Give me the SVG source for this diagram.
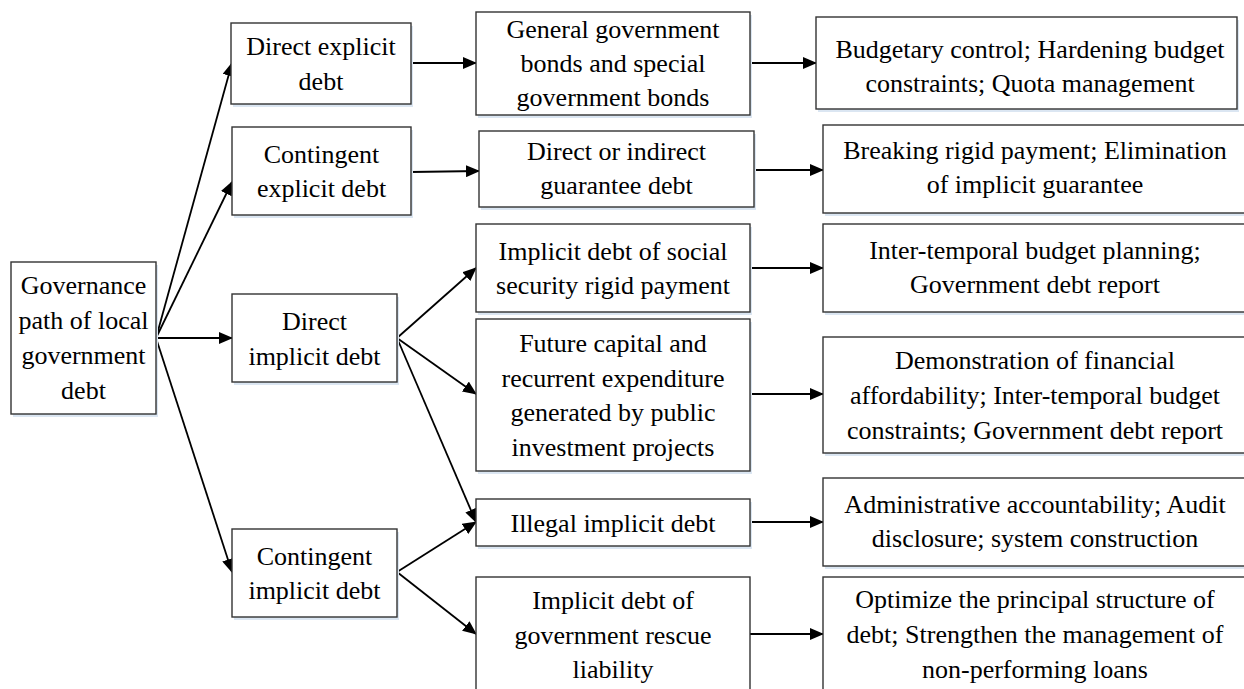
<svg xmlns="http://www.w3.org/2000/svg" width="1244" height="689" viewBox="0 0 1244 689">
<defs>
<style>
.box{fill:#fff;stroke:#333;stroke-width:1.4}
.sh{fill:#dbe6f2}
.t text{font-size:26px;fill:#000;text-anchor:middle}
.ln{stroke:#000;stroke-width:1.8;fill:none;marker-end:url(#ah)}
</style>
<marker id="ah" markerWidth="14" markerHeight="12" refX="13" refY="6" orient="auto" markerUnits="userSpaceOnUse">
<path d="M0,0 L14,6 L0,12 Z" fill="#000"/>
</marker>
</defs>
<rect width="1244" height="689" fill="#fff"/>
<g id="connectors">
<line class="ln" x1="156" y1="338" x2="232" y2="63"/>
<line class="ln" x1="156" y1="338" x2="232" y2="182"/>
<line class="ln" x1="156" y1="338" x2="232" y2="338"/>
<line class="ln" x1="156" y1="338" x2="232" y2="572"/>
<line class="ln" x1="411" y1="63" x2="476" y2="63"/>
<line class="ln" x1="411" y1="172" x2="479" y2="171"/>
<line class="ln" x1="397" y1="338" x2="476" y2="268"/>
<line class="ln" x1="397" y1="338" x2="476" y2="394"/>
<line class="ln" x1="397" y1="338" x2="476" y2="522"/>
<line class="ln" x1="397" y1="572" x2="476" y2="522"/>
<line class="ln" x1="397" y1="572" x2="476" y2="634"/>
<line class="ln" x1="750" y1="63" x2="816" y2="63"/>
<line class="ln" x1="754" y1="170" x2="823" y2="170"/>
<line class="ln" x1="750" y1="268" x2="823" y2="268"/>
<line class="ln" x1="750" y1="394" x2="823" y2="394"/>
<line class="ln" x1="750" y1="522" x2="823" y2="522"/>
<line class="ln" x1="750" y1="634" x2="823" y2="634"/>
</g>
<g class="t" font-family="'Liberation Serif', 'Times New Roman', Times, serif">
<g id="root">
<rect class="sh" x="13" y="265" width="145" height="152"/>
<rect class="box" x="11" y="262" width="145" height="152"/>
<text x="83.5" y="294">Governance</text>
<text x="83.5" y="329">path of local</text>
<text x="83.5" y="364">government</text>
<text x="83.5" y="399">debt</text>
</g>
<g id="a1">
<rect class="sh" x="233" y="26" width="180" height="81"/>
<rect class="box" x="231" y="23" width="180" height="81"/>
<text x="321" y="55">Direct explicit</text>
<text x="321" y="90">debt</text>
</g>
<g id="a2">
<rect class="sh" x="234" y="130" width="179" height="88"/>
<rect class="box" x="232" y="127" width="179" height="88"/>
<text x="321.5" y="163">Contingent</text>
<text x="321.5" y="197">explicit debt</text>
</g>
<g id="a3">
<rect class="sh" x="234" y="297" width="165" height="88"/>
<rect class="box" x="232" y="294" width="165" height="88"/>
<text x="314.5" y="330">Direct</text>
<text x="314.5" y="365">implicit debt</text>
</g>
<g id="a4">
<rect class="sh" x="234" y="532" width="165" height="88"/>
<rect class="box" x="232" y="529" width="165" height="88"/>
<text x="314.5" y="565">Contingent</text>
<text x="314.5" y="599">implicit debt</text>
</g>
<g id="b1">
<rect class="sh" x="478" y="15" width="274" height="103"/>
<rect class="box" x="476" y="12" width="274" height="103"/>
<text x="613" y="38">General government</text>
<text x="613" y="72">bonds and special</text>
<text x="613" y="106">government bonds</text>
</g>
<g id="b2">
<rect class="sh" x="481" y="134" width="275" height="76"/>
<rect class="box" x="479" y="131" width="275" height="76"/>
<text x="616.5" y="160">Direct or indirect</text>
<text x="616.5" y="194">guarantee debt</text>
</g>
<g id="b3">
<rect class="sh" x="478" y="227" width="274" height="88"/>
<rect class="box" x="476" y="224" width="274" height="88"/>
<text x="613" y="260">Implicit debt of social</text>
<text x="613" y="294">security rigid payment</text>
</g>
<g id="b4">
<rect class="sh" x="478" y="322" width="274" height="152"/>
<rect class="box" x="476" y="319" width="274" height="152"/>
<text x="613" y="352">Future capital and</text>
<text x="613" y="386.5">recurrent expenditure</text>
<text x="613" y="421">generated by public</text>
<text x="613" y="455.5">investment projects</text>
</g>
<g id="b5">
<rect class="sh" x="478" y="502" width="274" height="47"/>
<rect class="box" x="476" y="499" width="274" height="47"/>
<text x="613" y="532">Illegal implicit debt</text>
</g>
<g id="b6">
<rect class="box" x="476" y="577" width="274" height="130"/>
<text x="613" y="609">Implicit debt of</text>
<text x="613" y="643.5">government rescue</text>
<text x="613" y="678">liability</text>
</g>
<g id="c1">
<rect class="sh" x="818" y="20" width="421" height="92"/>
<rect class="box" x="816" y="17" width="421" height="92"/>
<text x="1030" y="58">Budgetary control; Hardening budget</text>
<text x="1030" y="92">constraints; Quota management</text>
</g>
<g id="c2">
<rect class="sh" x="825" y="128" width="430" height="88"/>
<rect class="box" x="823" y="125" width="430" height="88"/>
<text x="1035" y="159">Breaking rigid payment; Elimination</text>
<text x="1035" y="193">of implicit guarantee</text>
</g>
<g id="c3">
<rect class="sh" x="825" y="227" width="430" height="88"/>
<rect class="box" x="823" y="224" width="430" height="88"/>
<text x="1035" y="259">Inter-temporal budget planning;</text>
<text x="1035" y="293">Government debt report</text>
</g>
<g id="c4">
<rect class="sh" x="825" y="340" width="430" height="116"/>
<rect class="box" x="823" y="337" width="430" height="116"/>
<text x="1035" y="369">Demonstration of financial</text>
<text x="1035" y="404">affordability; Inter-temporal budget</text>
<text x="1035" y="439">constraints; Government debt report</text>
</g>
<g id="c5">
<rect class="sh" x="825" y="481" width="430" height="88"/>
<rect class="box" x="823" y="478" width="430" height="88"/>
<text x="1035" y="513">Administrative accountability; Audit</text>
<text x="1035" y="547">disclosure; system construction</text>
</g>
<g id="c6">
<rect class="box" x="823" y="577" width="430" height="130"/>
<text x="1035" y="608">Optimize the principal structure of</text>
<text x="1035" y="643">debt; Strengthen the management of</text>
<text x="1035" y="678">non-performing loans</text>
</g>
</g>
</svg>
